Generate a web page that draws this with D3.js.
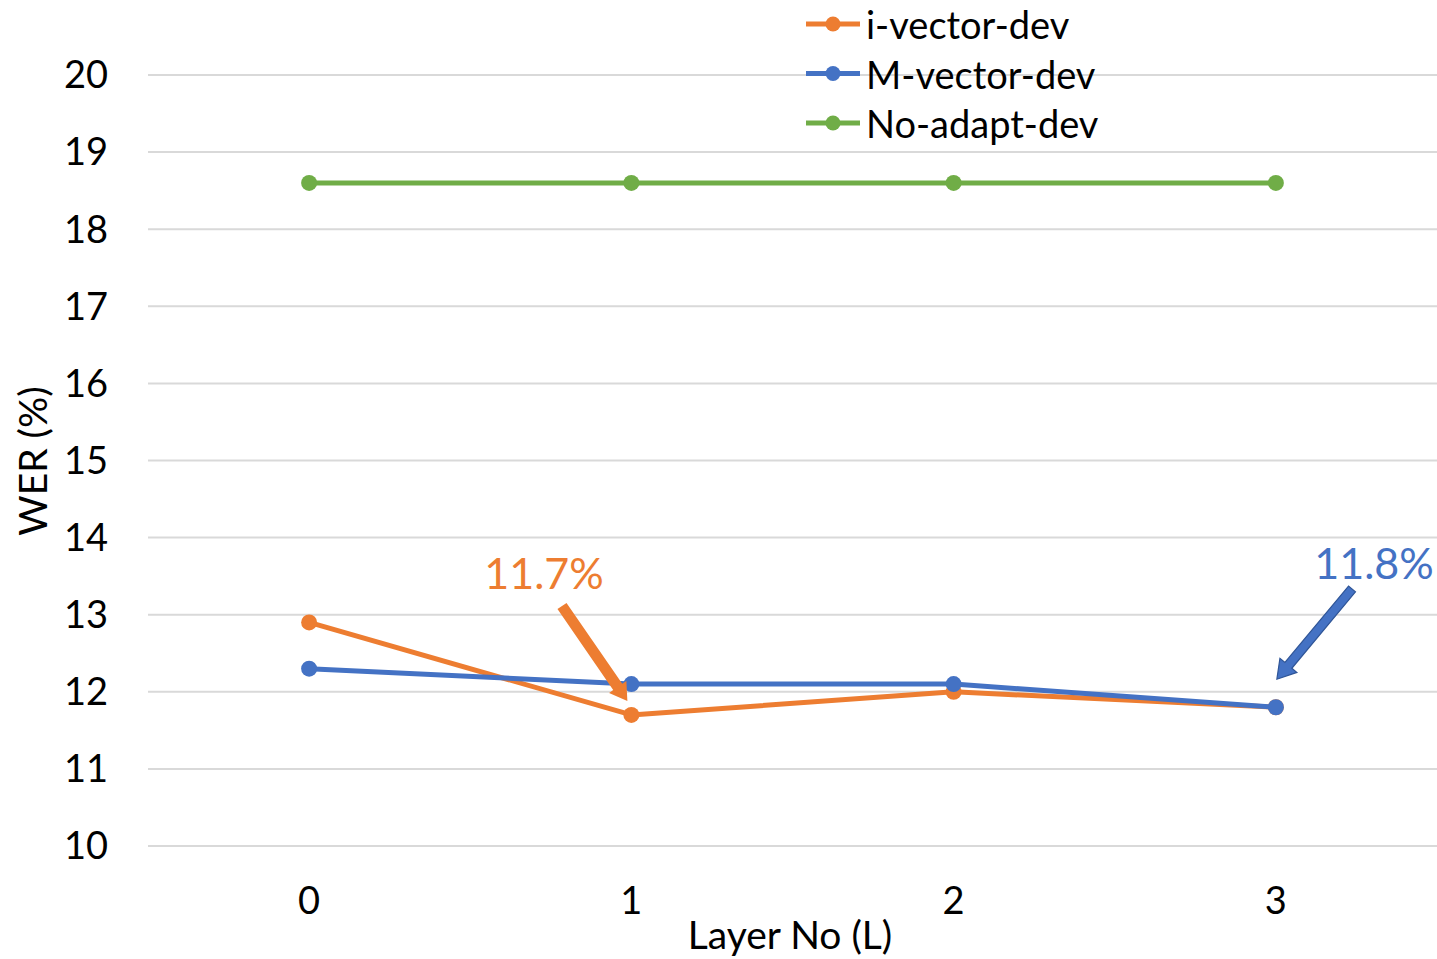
<!DOCTYPE html>
<html>
<head>
<meta charset="utf-8">
<script src="https://cdn.jsdelivr.net/npm/d3@7"></script>
<style>
  html, body { margin: 0; padding: 0; background: #fff; }
  svg { display: block; }
  text { font-family: Lato, "Open Sans", sans-serif; }
</style>
</head>
<body>
<svg id="chart" width="1437" height="959"></svg>
<script>
// WER per adapted layer
const layers = ["0", "1", "2", "3"];
const iVectorDev = [12.9, 11.7, 12.0, 11.8];
const mVectorDev = [12.3, 12.1, 12.1, 11.8];
const noAdaptDev = [18.6, 18.6, 18.6, 18.6];
const yTicks = [10, 11, 12, 13, 14, 15, 16, 17, 18, 19, 20];

const seriesNames = ["i-vector-dev", "M-vector-dev", "No-adapt-dev"];
const seriesColors = ["#ED7D31", "#4472C4", "#70AD47"];
const series = [iVectorDev, mVectorDev, noAdaptDev];

// callouts: [label, series index, layer index]
const callouts = [
  { text: "11.7%", s: 0, i: 1 },
  { text: "11.8%", s: 1, i: 3 }
];

const svg = d3.select("#chart");
const plot = { left: 148, right: 1437, top: 75, bottom: 846 };

const x = d3.scalePoint().domain(layers).range([plot.left, plot.right]).padding(0.5);
const y = d3.scaleLinear().domain([10, 20]).range([plot.bottom, plot.top]);

// horizontal gridlines
svg.append("g").selectAll("line").data(yTicks).join("line")
  .attr("x1", plot.left).attr("x2", plot.right)
  .attr("y1", d => y(d)).attr("y2", d => y(d))
  .attr("stroke", "#D9D9D9").attr("stroke-width", 2);

// y tick labels
svg.append("g").selectAll("text").data(yTicks).join("text")
  .attr("x", 108).attr("y", d => y(d))
  .attr("dy", "0.35em")
  .attr("text-anchor", "end")
  .attr("font-size", 38).attr("fill", "#000")
  .text(d => d);

// x tick labels
svg.append("g").selectAll("text").data(layers).join("text")
  .attr("x", d => x(d)).attr("y", 914)
  .attr("text-anchor", "middle")
  .attr("font-size", 38).attr("fill", "#000")
  .text(d => d);

// axis titles
svg.append("text")
  .attr("x", 790).attr("y", 949)
  .attr("text-anchor", "middle")
  .attr("font-size", 39).attr("fill", "#000")
  .text("Layer No (L)");

svg.append("text")
  .attr("transform", "translate(47,461) rotate(-90)")
  .attr("text-anchor", "middle")
  .attr("font-size", 39).attr("fill", "#000")
  .text("WER (%)");

// series lines and markers
const line = d3.line().x((d, i) => x(layers[i])).y(d => y(d));
series.forEach((vals, s) => {
  const g = svg.append("g");
  g.append("path").datum(vals)
    .attr("d", line)
    .attr("fill", "none")
    .attr("stroke", seriesColors[s])
    .attr("stroke-width", 5)
    .attr("stroke-linejoin", "round");
  g.selectAll("circle").data(vals).join("circle")
    .attr("cx", (d, i) => x(layers[i]))
    .attr("cy", d => y(d))
    .attr("r", 8)
    .attr("fill", seriesColors[s]);
});

// legend
const legend = svg.append("g");
seriesNames.forEach((name, s) => {
  const cy = 24 + s * 49.5;
  legend.append("line")
    .attr("x1", 806).attr("x2", 860).attr("y1", cy).attr("y2", cy)
    .attr("stroke", seriesColors[s]).attr("stroke-width", 5);
  legend.append("circle")
    .attr("cx", 833).attr("cy", cy).attr("r", 7.5)
    .attr("fill", seriesColors[s]);
  legend.append("text")
    .attr("x", 866).attr("y", cy + 15)
    .attr("font-size", 38).attr("fill", "#000")
    .text(name);
});

// block arrow drawn from tail to tip
function blockArrow(x0, y0, x1, y1, shaftW, headW, headL, color, stroke) {
  const dx = x1 - x0, dy = y1 - y0;
  const len = Math.hypot(dx, dy);
  const ux = dx / len, uy = dy / len;
  const px = -uy, py = ux;
  const bx = x1 - ux * headL, by = y1 - uy * headL;
  const pts = [
    [x0 + px * shaftW / 2, y0 + py * shaftW / 2],
    [bx + px * shaftW / 2, by + py * shaftW / 2],
    [bx + px * headW / 2, by + py * headW / 2],
    [x1, y1],
    [bx - px * headW / 2, by - py * headW / 2],
    [bx - px * shaftW / 2, by - py * shaftW / 2],
    [x0 - px * shaftW / 2, y0 - py * shaftW / 2]
  ];
  svg.append("polygon")
    .attr("points", pts.map(p => p.join(",")).join(" "))
    .attr("fill", color)
    .attr("stroke", stroke || "none")
    .attr("stroke-width", stroke ? 1.2 : 0);
}

// callout labels with arrows pointing at their points
const c0 = callouts[0];
svg.append("text")
  .attr("x", 544).attr("y", 589)
  .attr("text-anchor", "middle")
  .attr("font-size", 43).attr("fill", seriesColors[c0.s])
  .text(c0.text);
blockArrow(562, 606, x(layers[c0.i]) - 4, y(series[c0.s][c0.i]) - 14, 11, 21, 17, seriesColors[c0.s]);

const c1 = callouts[1];
svg.append("text")
  .attr("x", 1374).attr("y", 579)
  .attr("text-anchor", "middle")
  .attr("font-size", 43).attr("fill", seriesColors[c1.s])
  .text(c1.text);
blockArrow(1352, 589, x(layers[c1.i]) + 1, y(series[c1.s][c1.i]) - 28, 9, 22, 18, seriesColors[c1.s], "#2F5597");
</script>
</body>
</html>
